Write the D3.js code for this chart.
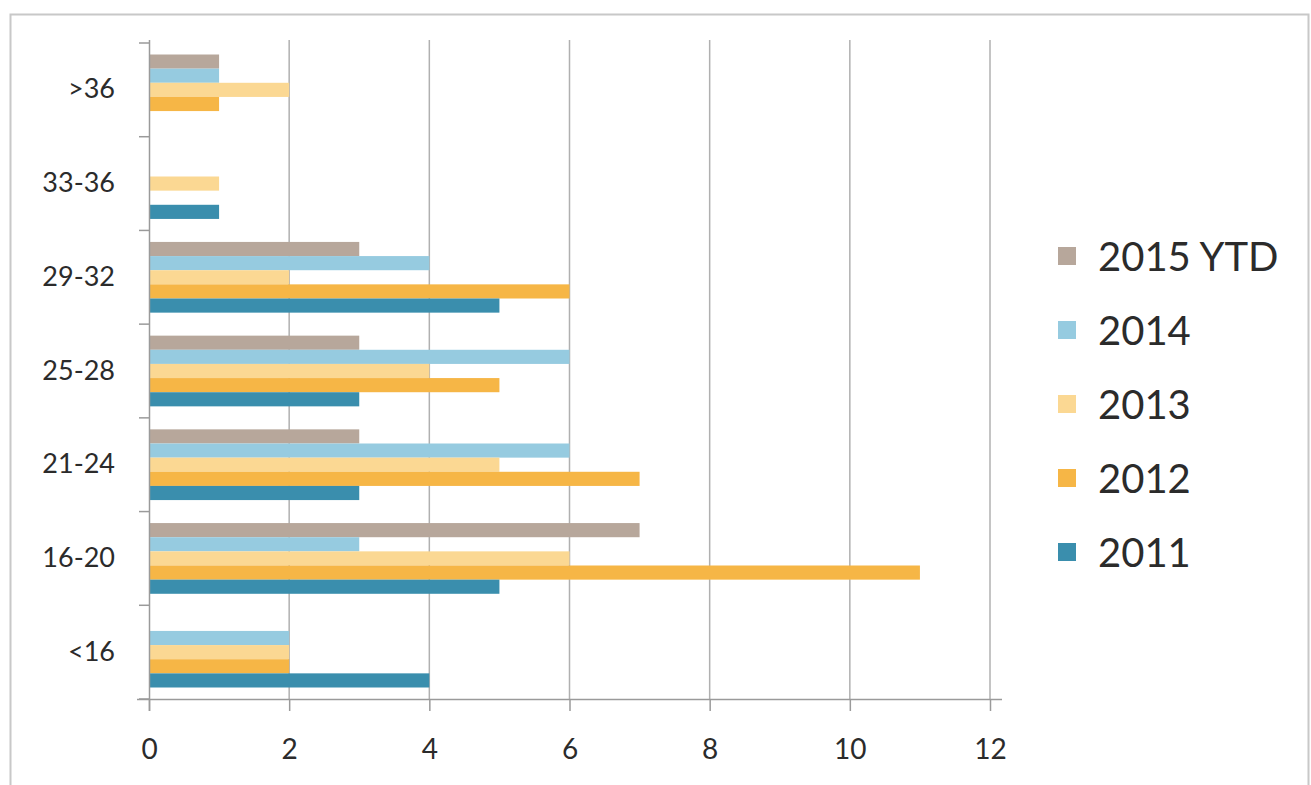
<!DOCTYPE html>
<html>
<head>
<meta charset="utf-8">
<script src="https://cdn.jsdelivr.net/npm/d3@7"></script>
<style>
  html, body { margin: 0; padding: 0; background: #fff; }
  svg { display: block; }
  text { font-family: Lato, "Open Sans", "Liberation Sans", sans-serif; fill: #2b2b2b; }
</style>
</head>
<body>
<svg id="chart" width="1311" height="785"></svg>
<script>
// Age bands, listed top to bottom as drawn
const categories = [">36", "33-36", "29-32", "25-28", "21-24", "16-20", "<16"];

// Series, listed in legend order (top bar in each band first)
const seriesNames = ["2015 YTD", "2014", "2013", "2012", "2011"];
const seriesColors = ["#b7a79b", "#96cbe0", "#fbd893", "#f6b646", "#3a8ead"];

// Counts per age band, same order as categories
const v2015 = [1, 0, 3, 3, 3, 7, 0];
const v2014 = [1, 0, 4, 6, 6, 3, 2];
const v2013 = [2, 1, 2, 4, 5, 6, 2];
const v2012 = [1, 0, 6, 5, 7, 11, 2];
const v2011 = [0, 1, 5, 3, 3, 5, 4];

const xTicks = [0, 2, 4, 6, 8, 10, 12];

const seriesValues = [v2015, v2014, v2013, v2012, v2011];

const svg = d3.select("#chart");

// Outer chart frame
svg.append("path")
  .attr("d", "M10.5,785 V14.5 H1308.5 V785")
  .attr("fill", "none")
  .attr("stroke", "#c8c8c8")
  .attr("stroke-width", 2);

const x = d3.scaleLinear().domain([0, 12]).range([149, 990]);
const y = d3.scaleBand().domain(categories).range([43, 699]);
const yInner = d3.scaleBand().domain(seriesNames)
  .range([11.5, y.bandwidth() - 11.5]);

// Vertical gridlines
svg.append("g")
  .selectAll("line")
  .data(xTicks.slice(1))
  .join("line")
  .attr("x1", d => x(d)).attr("x2", d => x(d))
  .attr("y1", 40).attr("y2", 699)
  .attr("stroke", "#b0b0b0")
  .attr("stroke-width", 1.5);

// Bars
const rows = [];
categories.forEach((c, i) => {
  seriesNames.forEach((s, j) => {
    rows.push({ cat: c, series: s, value: seriesValues[j][i], color: seriesColors[j] });
  });
});

svg.append("g")
  .selectAll("rect")
  .data(rows.filter(d => d.value > 0))
  .join("rect")
  .attr("x", x(0))
  .attr("y", d => y(d.cat) + yInner(d.series))
  .attr("width", d => x(d.value) - x(0))
  .attr("height", yInner.bandwidth())
  .attr("fill", d => d.color);

// Value axis (bottom)
const xAxis = svg.append("g")
  .attr("transform", "translate(0,699)")
  .call(d3.axisBottom(x).tickValues(xTicks).tickSize(12).tickPadding(28).tickFormat(d3.format("d")));
xAxis.select(".domain").attr("stroke", "#9a9a9a").attr("stroke-width", 1.5)
  .attr("d", `M${x(0) - 12},0.5H${x(12) + 12}`);
xAxis.selectAll(".tick line").attr("stroke", "#9a9a9a").attr("stroke-width", 1.5);
xAxis.selectAll(".tick text")
  .attr("font-size", 28)
  .style("font-family", "Lato, 'Open Sans', sans-serif")
  .attr("fill", "#2b2b2b");

// Category axis (left)
const yAxis = svg.append("g")
  .attr("transform", `translate(${x(0)},0)`)
  .call(d3.axisLeft(y).tickSize(0).tickPadding(34));
yAxis.select(".domain").attr("stroke", "#9a9a9a").attr("stroke-width", 1.5)
  .attr("d", "M0.5,40V711");
yAxis.selectAll(".tick text")
  .attr("font-size", 27)
  .style("font-family", "Lato, 'Open Sans', sans-serif")
  .attr("fill", "#2b2b2b");

// Tick marks at band boundaries
const bounds = categories.map(c => y(c)).concat([y.range()[1]]);
svg.append("g")
  .selectAll("line")
  .data(bounds)
  .join("line")
  .attr("x1", x(0) - 10).attr("x2", x(0))
  .attr("y1", d => d).attr("y2", d => d)
  .attr("stroke", "#9a9a9a")
  .attr("stroke-width", 1.5);

// Legend
const legend = svg.append("g")
  .selectAll("g")
  .data(seriesNames)
  .join("g")
  .attr("transform", (d, i) => `translate(1058,${257 + i * 74})`);

legend.append("rect")
  .attr("x", 0).attr("y", -10)
  .attr("width", 18).attr("height", 18)
  .attr("fill", (d, i) => seriesColors[i]);

legend.append("text")
  .attr("x", 40).attr("y", 0)
  .attr("dy", "0.35em")
  .attr("font-size", 40)
  .text(d => d);
</script>
</body>
</html>
